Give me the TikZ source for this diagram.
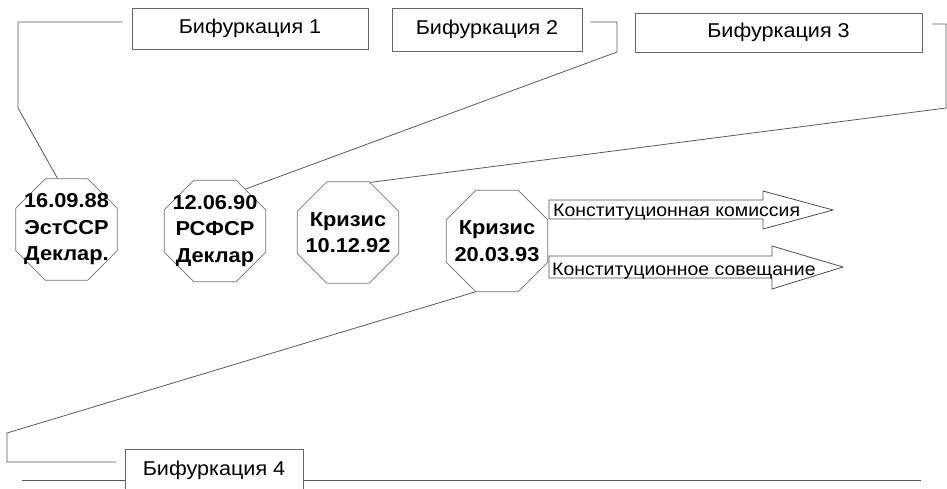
\documentclass[tikz,border=0pt]{standalone}
\usepackage{fontspec}
\setmainfont{Liberation Sans}[FakeStretch=1.08]
\usetikzlibrary{shapes.geometric}
\tikzset{
bifbox/.style={draw=black!60, fill=white, line width=0.8pt, font=\fontsize{20}{24}\selectfont}, % the labelled frames
event/.style={regular polygon, regular polygon sides=8, minimum size=110pt, inner sep=-16pt, draw=black!55, line width=0.8pt, align=center, font=\fontsize{20.2}{26.5}\selectfont\bfseries}, % the octagons
link/.style={draw=black!65, line width=0.8pt}, % the lines from the frames
track/.style={draw=black!70, line width=0.8pt}, % outline of the wide arrows
tracktext/.style={anchor=base west, inner sep=0pt, font=\fontsize{18}{21}\selectfont}, % text on the wide arrows
}

\begin{document}
\begin{tikzpicture}[x=1pt, y=-1pt]
\clip (0,0) rectangle (947,488);

% frames
\node[bifbox, minimum width=236pt, minimum height=41pt] (b1) at (250,28.5) {Бифуркация 1};
\node[bifbox, minimum width=190pt, minimum height=43pt] (b2) at (487,29.5) {Бифуркация 2};
\node[bifbox, minimum width=287pt, minimum height=39pt] (b3) at (778.5,32.5) {Бифуркация 3};

% octagons
\node[event] (o1) at (66.5,229.5) {16.09.88\\ЭстССР\\Деклар.};
\node[event] (o2) at (215,231) {12.06.90\\РСФСР\\Деклар};
\node[event] (o3) at (348,232.5) {Кризис\\10.12.92};
\node[event] (o4) at (497,241) {Кризис\\20.03.93};

% arrows
\draw[track] (549,200) -- (763,200) -- (763,191) -- (833,210) -- (763,229) -- (763,219) -- (549,219) -- cycle;
\draw[track] (549,256) -- (772,256) -- (772,246) -- (843,267) -- (772,289) -- (772,278) -- (549,278) -- cycle;
\node[tracktext] (a1) at (553,216.5) {Конституционная комиссия};
\node[tracktext] (a2) at (552,275) {Конституционное совещание};

% bends
\coordinate (k1) at (18,108);
\coordinate (k2) at (617,52);
\coordinate (k3) at (946,108);
\coordinate (k4) at (7,433);
\coordinate (t1) at (22,480);
\coordinate (t2) at (921,480);

\draw[link, shorten <=9pt] ([yshift=6.5pt]b1.west) -| (k1) -- (o1.100);
\draw[link, shorten <=8pt] ([yshift=7.5pt]b2.east) -| (k2) -- (o2.54);
\draw[link, shorten <=10pt] ([yshift=8.5pt]b3.east) -| (k3) -- (o3.66);

% bottom line
\draw[link] (t1) -- (t2);
\node[bifbox, minimum width=178pt, minimum height=41pt] (b4) at (214,470) {Бифуркация 4};
\draw[link, shorten >=8pt] (o4.247) -- (k4) |- ([yshift=8pt]b4.west);
\end{tikzpicture}
\end{document}
